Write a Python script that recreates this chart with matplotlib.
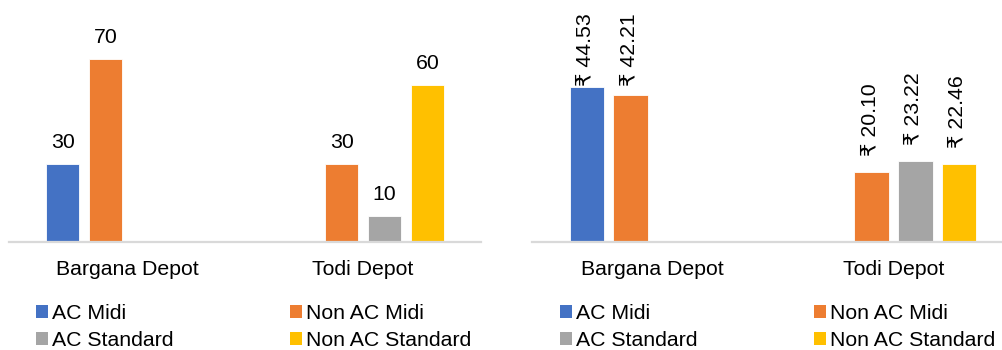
import matplotlib
matplotlib.use("Agg")
import matplotlib.pyplot as plt
import numpy as np
from matplotlib.patches import Patch

plt.rcParams['font.family'] = ['Liberation Sans', 'DejaVu Sans']

categories = ["Bargana Depot", "Todi Depot"]
series = ["AC Midi", "Non AC Midi", "AC Standard", "Non AC Standard"]
colors = ["#4472C4", "#ED7D31", "#A5A5A5", "#FFC000"]

# Left chart: bus counts (None = no bar)
left_values = {
    "AC Midi": [30, None],
    "Non AC Midi": [70, 30],
    "AC Standard": [None, 10],
    "Non AC Standard": [None, 60],
}
# Right chart: cost values in rupees
right_values = {
    "AC Midi": [44.53, None],
    "Non AC Midi": [42.21, 20.10],
    "AC Standard": [None, 23.22],
    "Non AC Standard": [None, 22.46],
}

W, H = 1003, 350
fig = plt.figure(figsize=(W / 100, H / 100), dpi=100)

FS = 15.3
slot = 0.182
bw = 0.142

def make_axes(rect, ymax):
    ax = fig.add_axes(rect)
    ax.set_xlim(-0.5, 1.5)
    ax.set_ylim(0, ymax)
    for s in ["top", "right", "left"]:
        ax.spines[s].set_visible(False)
    ax.spines["bottom"].set_color("#d9d9d9")
    ax.spines["bottom"].set_linewidth(1.6)
    ax.set_yticks([])
    ax.set_xticks(range(len(categories)))
    ax.set_xticklabels(categories, fontsize=FS, color="#000000")
    ax.tick_params(axis="x", length=0, pad=13)
    ax.patch.set_alpha(0)
    return ax

# left axes: x 9..481 px, baseline y=242 px
axL = make_axes([9 / W, (H - 242) / H, 472 / W, 209 / H], 80)
# right axes: x 532..1014 px
axR = make_axes([532 / W, (H - 242) / H, 482 / W, 174 / H], 50)

x = np.arange(len(categories))
n = len(series)
right_labels = []
for i, (s, c) in enumerate(zip(series, colors)):
    off = (i - (n - 1) / 2) * slot
    for ax, vals, kind in ((axL, left_values, "L"), (axR, right_values, "R")):
        v = vals[s]
        xs = [x[j] + off for j in range(len(v)) if v[j] is not None]
        ys = [v[j] for j in range(len(v)) if v[j] is not None]
        bars = ax.bar(xs, ys, width=bw, color=c, edgecolor="white", linewidth=0.6)
        for b, val in zip(bars, ys):
            cx = b.get_x() + b.get_width() / 2
            if kind == "L":
                ax.annotate(f"{val:g}", (cx, val), xytext=(0, 16), textcoords="offset pixels",
                            ha="center", va="baseline", fontsize=FS)
            else:
                t = ax.annotate(f"\u20b9 {val:.2f}", (cx, val), xytext=(-2, 16),
                                textcoords="offset pixels", ha="center", va="bottom",
                                rotation=90, fontsize=FS)
                right_labels.append(t)

# keep rotated labels inside the chart area (top margin ~13 px)
fig.canvas.draw()
r = fig.canvas.get_renderer()
for t in right_labels:
    bb = t.get_window_extent(r)
    limit = H - 13
    if bb.y1 > limit:
        dx, dy = t.xyann
        t.xyann = (dx, dy - (bb.y1 - limit))

def add_legend(ax, x0):
    order = [0, 2, 1, 3]
    handles = [Patch(facecolor=colors[k], edgecolor="none") for k in order]
    labels = [series[k] for k in order]
    leg = fig.legend(handles, labels, ncol=2, loc="upper left",
                     bbox_to_anchor=(x0 / W, 1 - 304 / H), frameon=False,
                     fontsize=FS, handlelength=0.55, handleheight=0.55,
                     handletextpad=0.2, columnspacing=5.5, labelspacing=0.38,
                     borderpad=0, borderaxespad=0)
    return leg

add_legend(axL, 36)
add_legend(axR, 560)

fig.savefig("out.png", dpi=100)
